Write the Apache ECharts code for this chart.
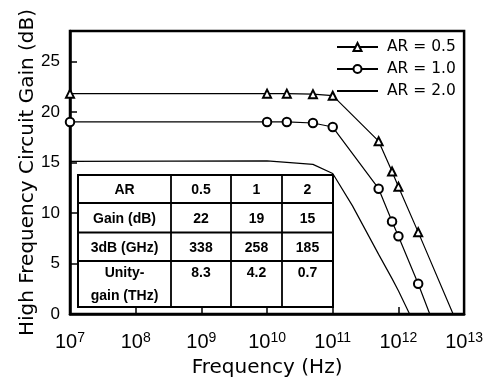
<!DOCTYPE html>
<html>
<head>
<meta charset="utf-8">
<script src="https://cdn.jsdelivr.net/npm/echarts@6/dist/echarts.min.js"></script>
<style>
  html, body { margin: 0; padding: 0; background: #fff; }
  #chart { width: 486px; height: 383px; }
</style>
</head>
<body>
<div id="chart"></div>
<script>
// frequency (Hz) / gain (dB)
const ar05Freq = [1e7, 1e10, 2e10, 5e10, 1e11, 5e11, 8e11, 1e12, 2e12, 6.8e12]
const ar05Gain = [21.8, 21.8, 21.8, 21.75, 21.6, 17.1, 14.1, 12.6, 8.1, 0]
const ar10Freq = [1e7, 1e10, 2e10, 5e10, 1e11, 5e11, 8e11, 1e12, 2e12, 3.0e12]
const ar10Gain = [19.0, 19.0, 19.0, 18.9, 18.5, 12.4, 9.15, 7.7, 3.0, 0]
const ar20Freq = [1e7, 1e10, 2e10, 5e10, 1e11, 2e11, 5e11, 8e11, 1e12, 1.48e12]
const ar20Gain = [15.1, 15.15, 15.0, 14.8, 13.9, 10.7, 5.9, 3.5, 2.3, 0]
const seriesNames = ['AR = 0.5', 'AR = 1.0', 'AR = 2.0']

// inset table
const tableRows = [
  ['AR', '0.5', '1', '2'],
  ['Gain (dB)', '22', '19', '15'],
  ['3dB (GHz)', '338', '258', '185'],
  ['Unity-\ngain (THz)', '8.3', '4.2', '0.7'],
]

const chart = echarts.init(document.getElementById('chart'))

// last point of each curve sits on the axis without a marker
function toData(xs, ys) {
  return xs.map((x, i) => i === xs.length - 1
    ? { value: [x, ys[i]], symbol: 'none' }
    : [x, ys[i]])
}

function buildTable() {
  const colEdges = [78, 171, 231, 282, 333]
  const rowEdges = [175, 203, 232.5, 261, 307]
  const children = [{
    type: 'rect',
    shape: { x: colEdges[0], y: rowEdges[0], width: colEdges[4] - colEdges[0], height: rowEdges[4] - rowEdges[0] },
    style: { fill: '#fff', stroke: '#000', lineWidth: 2 }
  }]
  for (let i = 1; i < colEdges.length - 1; i++) {
    children.push({ type: 'line', shape: { x1: colEdges[i], y1: rowEdges[0], x2: colEdges[i], y2: rowEdges[4] }, style: { stroke: '#000', lineWidth: 1.8 } })
  }
  for (let j = 1; j < rowEdges.length - 1; j++) {
    children.push({ type: 'line', shape: { x1: colEdges[0], y1: rowEdges[j], x2: colEdges[4], y2: rowEdges[j] }, style: { stroke: '#000', lineWidth: 1.8 } })
  }
  tableRows.forEach((row, j) => {
    row.forEach((txt, i) => {
      const last = j === tableRows.length - 1
      children.push({
        type: 'text',
        x: (colEdges[i] + colEdges[i + 1]) / 2,
        y: last ? rowEdges[j] + 0.5 : (rowEdges[j] + rowEdges[j + 1]) / 2 + 1.5,
        style: {
          text: txt,
          font: 'bold 14px "Liberation Sans", Arial, sans-serif',
          fill: '#000',
          align: 'center',
          verticalAlign: last ? 'top' : 'middle',
          lineHeight: 23
        }
      })
    })
  })
  return { type: 'group', z: 100, children: children }
}

const option = {
  animation: false,
  backgroundColor: '#fff',
  grid: {
    left: 70, right: 21, top: 31, bottom: 68,
    show: true, borderColor: '#000', borderWidth: 2.5
  },
  legend: {
    orient: 'vertical',
    left: 336, top: 39,
    padding: 0,
    itemWidth: 41, itemHeight: 10, itemGap: 6,
    data: [
      { name: seriesNames[0] },
      { name: seriesNames[1] },
      { name: seriesNames[2], itemStyle: { opacity: 0 } }
    ],
    textStyle: { fontFamily: '"DejaVu Sans", sans-serif', fontSize: 15.5, color: '#000', padding: [0, 0, 0, 4] }
  },
  xAxis: {
    type: 'log',
    logBase: 10,
    min: 1e7, max: 1e13,
    splitNumber: 6,
    name: 'Frequency (Hz)',
    nameLocation: 'middle',
    nameGap: 44,
    nameMoveOverlap: false,
    nameTextStyle: { fontFamily: '"DejaVu Sans", sans-serif', fontSize: 20, color: '#000' },
    axisLine: { lineStyle: { color: '#000', width: 2.5 } },
    axisTick: { inside: true, length: 7, lineStyle: { color: '#000', width: 1.5 } },
    minorTick: { show: false },
    splitLine: { show: false },
    axisLabel: {
      margin: 17,
      color: '#000',
      formatter: v => '{b|10}{s|' + Math.round(Math.log10(v)) + '}',
      rich: {
        b: { fontFamily: '"Liberation Sans", Arial, sans-serif', fontSize: 20, color: '#000', lineHeight: 22 },
        s: { fontFamily: '"Liberation Sans", Arial, sans-serif', fontSize: 14, color: '#000', verticalAlign: 'top', lineHeight: 14 }
      }
    }
  },
  yAxis: {
    type: 'value',
    min: 0, max: 28, interval: 5,
    name: 'High Frequency Circuit Gain (dB)',
    nameLocation: 'middle',
    nameGap: 32,
    nameMoveOverlap: false,
    nameTextStyle: { fontFamily: '"DejaVu Sans", sans-serif', fontSize: 20, color: '#000' },
    axisLine: { lineStyle: { color: '#000', width: 2.5 } },
    axisTick: { inside: true, length: 7, lineStyle: { color: '#000', width: 1.5 } },
    splitLine: { show: false },
    axisLabel: {
      margin: 10,
      color: '#000',
      fontFamily: '"Liberation Sans", Arial, sans-serif',
      fontSize: 17,
      formatter: v => (v % 5 === 0 ? String(v) : '')
    }
  },
  series: [
    {
      name: seriesNames[0], type: 'line',
      data: toData(ar05Freq, ar05Gain),
      symbol: 'emptyTriangle', symbolSize: 8,
      itemStyle: { color: '#000', borderWidth: 1 },
      lineStyle: { color: '#000', width: 1.2 }
    },
    {
      name: seriesNames[1], type: 'line',
      data: toData(ar10Freq, ar10Gain),
      symbol: 'emptyCircle', symbolSize: 8.5,
      itemStyle: { color: '#000', borderWidth: 1 },
      lineStyle: { color: '#000', width: 1.2 }
    },
    {
      name: seriesNames[2], type: 'line',
      data: toData(ar20Freq, ar20Gain),
      symbol: 'none',
      itemStyle: { color: '#000' },
      lineStyle: { color: '#000', width: 1.2 }
    }
  ],
  graphic: [buildTable()]
}

chart.setOption(option)
</script>
</body>
</html>
